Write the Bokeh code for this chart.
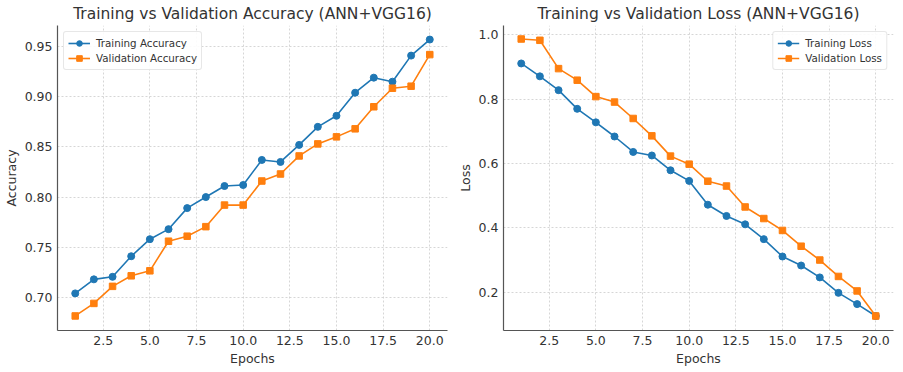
from bokeh.plotting import figure
from bokeh.layouts import row
from bokeh.models import FixedTicker, Range1d
from bokeh.embed import file_html
from bokeh.resources import INLINE

epochs = list(range(1, 21))
train_acc = [0.704, 0.718, 0.7205, 0.741, 0.758, 0.768, 0.789, 0.800, 0.811, 0.812,
             0.837, 0.835, 0.852, 0.870, 0.881, 0.904, 0.919, 0.915, 0.941, 0.957]
val_acc = [0.6815, 0.694, 0.711, 0.7215, 0.7265, 0.756, 0.761, 0.7705, 0.792, 0.792,
           0.816, 0.823, 0.841, 0.853, 0.860, 0.868, 0.890, 0.9085, 0.9105, 0.942]
train_loss = [0.911, 0.871, 0.828, 0.770, 0.728, 0.684, 0.636, 0.625, 0.579, 0.546,
              0.472, 0.437, 0.411, 0.365, 0.311, 0.283, 0.246, 0.198, 0.163, 0.126]
val_loss = [0.987, 0.983, 0.895, 0.859, 0.808, 0.791, 0.740, 0.686, 0.623, 0.598,
            0.545, 0.530, 0.465, 0.429, 0.392, 0.343, 0.300, 0.249, 0.204, 0.126]

x_ticks = [2.5, 5.0, 7.5, 10.0, 12.5, 15.0, 17.5, 20.0]
x_tick_labels = ["2.5", "5.0", "7.5", "10.0", "12.5", "15.0", "17.5", "20.0"]
acc_ticks = [0.70, 0.75, 0.80, 0.85, 0.90, 0.95]
acc_tick_labels = ["0.70", "0.75", "0.80", "0.85", "0.90", "0.95"]
loss_ticks = [0.2, 0.4, 0.6, 0.8, 1.0]
loss_tick_labels = ["0.2", "0.4", "0.6", "0.8", "1.0"]

BLUE = "#1f77b4"
ORANGE = "#ff7f0e"
FONT = "DejaVu Sans"
TXT = "#333333"


def make_fig(title, ylabel, yrange, yticks, ylabels, tr, va, tr_label, va_label,
             legend_loc, border_left, border_right):
    p = figure(frame_width=390, frame_height=305, output_backend="svg",
               toolbar_location=None, title=title,
               x_range=Range1d(0.05, 20.95), y_range=Range1d(*yrange),
               min_border_left=border_left, min_border_right=border_right,
               min_border_top=4, min_border_bottom=2)
    p.title.align = "center"
    p.title.text_font = FONT
    p.title.text_font_size = "15.5px"
    p.title.text_font_style = "normal"
    p.title.text_color = TXT
    p.title.standoff = 5
    p.outline_line_color = None

    for ax in (p.xaxis[0], p.yaxis[0]):
        ax.axis_line_color = "#555555"
        ax.axis_line_width = 1.2
        ax.major_tick_out = 0
        ax.major_tick_in = 0
        ax.minor_tick_out = 0
        ax.minor_tick_in = 0
        ax.major_label_text_font = FONT
        ax.major_label_text_font_size = "12.5px"
        ax.major_label_text_color = TXT
        ax.axis_label_text_font = FONT
        ax.axis_label_text_font_size = "12.5px"
        ax.axis_label_text_font_style = "normal"
        ax.axis_label_text_color = TXT
        ax.major_label_standoff = 5
        ax.axis_label_standoff = 3

    p.xaxis[0].ticker = FixedTicker(ticks=x_ticks)
    p.xaxis[0].major_label_overrides = dict(zip(x_ticks, x_tick_labels))
    p.yaxis[0].ticker = FixedTicker(ticks=yticks)
    p.yaxis[0].major_label_overrides = dict(zip(yticks, ylabels))
    p.xaxis.axis_label = "Epochs"
    p.yaxis.axis_label = ylabel

    p.grid.grid_line_color = "#cccccc"
    p.grid.grid_line_dash = "2 2"
    p.grid.grid_line_width = 0.8

    p.line(epochs, tr, color=BLUE, line_width=1.6, legend_label=tr_label)
    p.scatter(epochs, tr, marker="circle", size=7, color=BLUE, legend_label=tr_label)
    p.line(epochs, va, color=ORANGE, line_width=1.6, legend_label=va_label)
    p.scatter(epochs, va, marker="square", size=6.5, color=ORANGE, legend_label=va_label)

    lg = p.legend[0]
    lg.location = legend_loc
    lg.label_text_font = FONT
    lg.label_text_font_size = "10.3px"
    lg.label_text_color = TXT
    lg.border_line_color = "#d0d0d0"
    lg.border_line_width = 1
    lg.border_radius = 3
    lg.background_fill_alpha = 0.9
    lg.padding = 4
    lg.spacing = 1
    lg.margin = 6
    lg.glyph_width = 22
    lg.glyph_height = 14
    lg.label_standoff = 6
    lg.label_height = 14
    return p


p1 = make_fig("Training vs Validation Accuracy (ANN+VGG16)", "Accuracy",
              (0.667, 0.971), acc_ticks, acc_tick_labels, train_acc, val_acc,
              "Training Accuracy", "Validation Accuracy", "top_left", 50, 6)
p2 = make_fig("Training vs Validation Loss (ANN+VGG16)", "Loss",
              (0.081, 1.029), loss_ticks, loss_tick_labels, train_loss, val_loss,
              "Training Loss", "Validation Loss", "top_right", 50, 1)

p = row(p1, p2)
open("out.html", "w").write(file_html(p, INLINE))
